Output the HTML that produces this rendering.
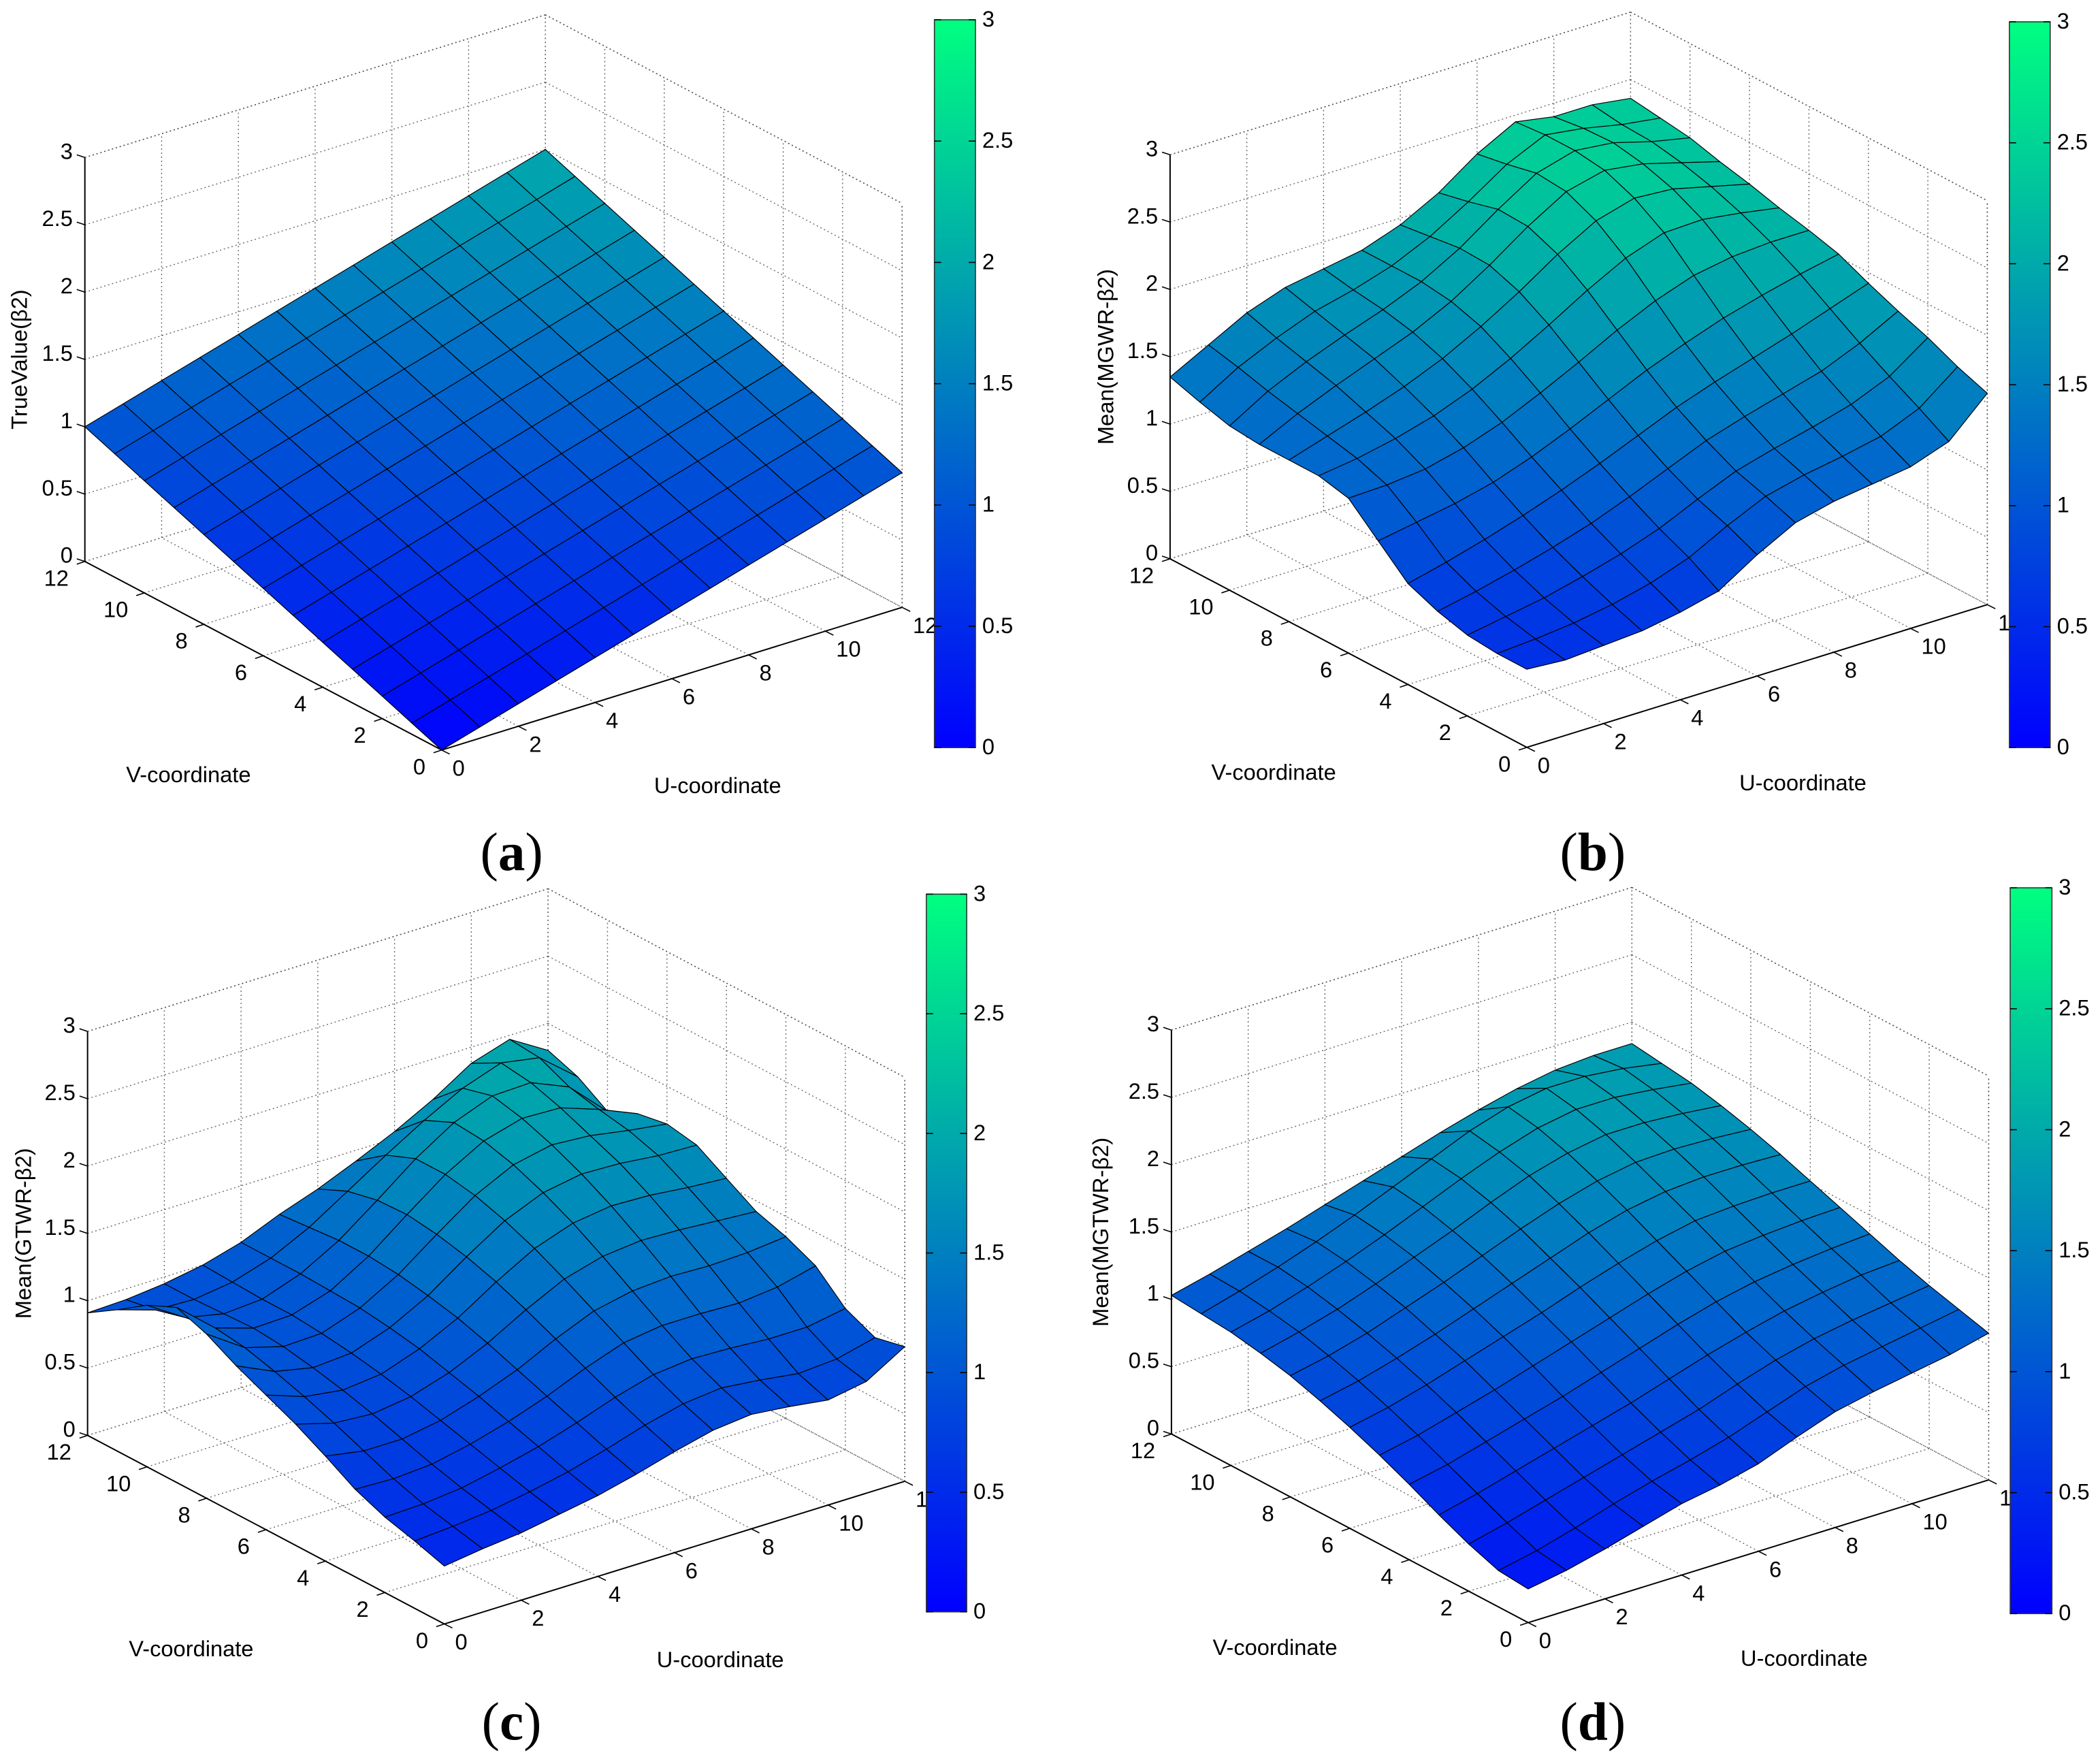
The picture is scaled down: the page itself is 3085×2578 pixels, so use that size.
<!DOCTYPE html>
<html><head><meta charset="utf-8"><style>
html,body{margin:0;padding:0;background:#fff;}
svg{display:block;}
.sans{font-family:"Liberation Sans",sans-serif;}
.serif{font-family:"Liberation Serif",serif;}
</style></head><body>
<svg id="fig" width="3085" height="2578" viewBox="0 0 1559.7 1303.3" preserveAspectRatio="none" xmlns="http://www.w3.org/2000/svg">
<defs><linearGradient id="winter" x1="0" y1="1" x2="0" y2="0"><stop offset="0" stop-color="rgb(0,0,255)"/><stop offset="1" stop-color="rgb(0,255,128)"/></linearGradient></defs>
</svg>
<script>
const uTicks=[0,2,4,6,8,10,12];
const vTicks=[0,2,4,6,8,10,12];
const zTicks=[0,0.5,1,1.5,2,2.5,3];
const zTickLabels=["0","0.5","1","1.5","2","2.5","3"];
const cbTickLabels=["0","0.5","1","1.5","2","2.5","3"];
const panelTitles=["TrueValue(β2)","Mean(MGWR-β2)","Mean(GTWR-β2)","Mean(MGTWR-β2)"];
const panelLetters=["a","b","c","d"];
const surfA=[
[0,.083,.167,.25,.333,.417,.5,.583,.667,.75,.833,.917,1],
[.083,.167,.25,.333,.417,.5,.583,.667,.75,.833,.917,1,1.083],
[.167,.25,.333,.417,.5,.583,.667,.75,.833,.917,1,1.083,1.167],
[.25,.333,.417,.5,.583,.667,.75,.833,.917,1,1.083,1.167,1.25],
[.333,.417,.5,.583,.667,.75,.833,.917,1,1.083,1.167,1.25,1.333],
[.417,.5,.583,.667,.75,.833,.917,1,1.083,1.167,1.25,1.333,1.417],
[.5,.583,.667,.75,.833,.917,1,1.083,1.167,1.25,1.333,1.417,1.5],
[.583,.667,.75,.833,.917,1,1.083,1.167,1.25,1.333,1.417,1.5,1.583],
[.667,.75,.833,.917,1,1.083,1.167,1.25,1.333,1.417,1.5,1.583,1.667],
[.75,.833,.917,1,1.083,1.167,1.25,1.333,1.417,1.5,1.583,1.667,1.75],
[.833,.917,1,1.083,1.167,1.25,1.333,1.417,1.5,1.583,1.667,1.75,1.833],
[.917,1,1.083,1.167,1.25,1.333,1.417,1.5,1.583,1.667,1.75,1.833,1.917],
[1,1.083,1.167,1.25,1.333,1.417,1.5,1.583,1.667,1.75,1.833,1.917,2]];
const surfB=[
[0.58,0.56,0.58,0.60,0.65,0.72,0.90,1.05,1.12,1.16,1.20,1.30,1.57],
[0.58,0.60,0.63,0.68,0.75,0.85,1.00,1.13,1.20,1.25,1.31,1.43,1.65],
[0.60,0.65,0.70,0.77,0.85,0.95,1.08,1.20,1.28,1.35,1.43,1.55,1.75],
[0.66,0.72,0.79,0.87,0.96,1.07,1.19,1.31,1.40,1.48,1.56,1.68,1.83],
[0.75,0.82,0.90,0.99,1.09,1.20,1.32,1.44,1.54,1.63,1.72,1.82,1.92],
[0.95,1.00,1.05,1.12,1.22,1.34,1.47,1.60,1.71,1.81,1.89,1.96,2.02],
[1.15,1.16,1.19,1.26,1.36,1.49,1.63,1.78,1.91,2.01,2.06,2.08,2.08],
[1.20,1.24,1.30,1.38,1.49,1.63,1.79,1.96,2.11,2.21,2.22,2.18,2.13],
[1.20,1.29,1.38,1.48,1.60,1.75,1.92,2.11,2.27,2.35,2.33,2.26,2.19],
[1.20,1.34,1.46,1.57,1.68,1.82,2.00,2.20,2.37,2.44,2.40,2.32,2.24],
[1.22,1.39,1.52,1.63,1.73,1.85,2.01,2.21,2.39,2.47,2.44,2.36,2.30],
[1.28,1.45,1.58,1.69,1.76,1.85,1.98,2.15,2.34,2.47,2.43,2.37,2.33],
[1.35,1.50,1.65,1.75,1.80,1.85,1.95,2.10,2.30,2.45,2.40,2.40,2.36]];
const surfC=[
[0.43,0.47,0.50,0.55,0.60,0.67,0.75,0.82,0.85,0.82,0.78,0.83,1.00],
[0.50,0.52,0.55,0.60,0.66,0.74,0.83,0.90,0.93,0.90,0.86,0.88,0.95],
[0.56,0.57,0.60,0.66,0.73,0.82,0.92,1.00,1.03,1.02,1.00,1.00,1.05],
[0.65,0.64,0.66,0.72,0.80,0.90,1.02,1.12,1.16,1.16,1.15,1.18,1.25],
[0.78,0.73,0.73,0.78,0.87,0.98,1.12,1.24,1.30,1.32,1.31,1.32,1.35],
[0.90,0.82,0.80,0.84,0.93,1.06,1.22,1.36,1.44,1.47,1.46,1.44,1.42],
[1.00,0.90,0.86,0.89,0.99,1.13,1.31,1.47,1.57,1.61,1.60,1.57,1.55],
[1.10,0.97,0.91,0.93,1.03,1.18,1.38,1.56,1.68,1.73,1.72,1.69,1.68],
[1.22,1.03,0.95,0.96,1.06,1.22,1.43,1.63,1.77,1.83,1.81,1.76,1.72],
[1.30,1.06,0.97,0.98,1.07,1.24,1.46,1.67,1.83,1.91,1.90,1.80,1.68],
[1.20,1.02,0.96,0.98,1.08,1.24,1.45,1.67,1.85,1.96,1.97,1.85,1.58],
[1.05,0.96,0.95,0.99,1.08,1.22,1.40,1.58,1.75,1.90,2.00,1.95,1.72],
[0.91,0.92,0.95,1.00,1.08,1.20,1.30,1.42,1.55,1.70,1.88,1.97,1.80]];
const surfD=[
[0.25,0.30,0.37,0.45,0.53,0.58,0.65,0.76,0.86,0.92,0.97,1.02,1.09],
[0.27,0.33,0.41,0.50,0.58,0.65,0.73,0.83,0.93,1.00,1.05,1.10,1.15],
[0.35,0.42,0.50,0.58,0.66,0.74,0.82,0.92,1.01,1.08,1.13,1.17,1.21],
[0.45,0.52,0.60,0.68,0.76,0.84,0.93,1.02,1.10,1.17,1.22,1.26,1.28],
[0.56,0.62,0.70,0.78,0.86,0.95,1.04,1.13,1.21,1.27,1.31,1.34,1.36],
[0.66,0.72,0.80,0.88,0.97,1.06,1.15,1.24,1.32,1.38,1.41,1.43,1.44],
[0.75,0.81,0.89,0.98,1.07,1.16,1.26,1.35,1.43,1.49,1.51,1.52,1.52],
[0.83,0.89,0.97,1.06,1.16,1.26,1.36,1.46,1.54,1.59,1.61,1.61,1.60],
[0.90,0.96,1.04,1.14,1.24,1.35,1.46,1.56,1.64,1.69,1.70,1.69,1.67],
[0.95,1.02,1.10,1.20,1.31,1.42,1.54,1.65,1.73,1.78,1.78,1.76,1.73],
[0.99,1.06,1.15,1.25,1.36,1.48,1.60,1.71,1.80,1.85,1.85,1.82,1.78],
[1.01,1.09,1.18,1.28,1.39,1.51,1.63,1.75,1.84,1.89,1.89,1.86,1.81],
[1.03,1.10,1.18,1.26,1.35,1.44,1.53,1.62,1.70,1.77,1.82,1.84,1.84]];
const surfaces=[surfA,surfB,surfC,surfD];
const layout=[
 {p0:[328,557],cb:[694,14.7,30.5,540.5],tx:15,letter:[380,632]},
 {p0:[1134,555],cb:[1492.4,16.2,30.3,539],tx:822,letter:[1183,632]},
 {p0:[330,1206],cb:[688,664,30,533],tx:18,letter:[380,1278]},
 {p0:[1135,1205],cb:[1493,659.3,31,539],tx:818,letter:[1183,1278]}];
const UX=28.5,UY=-8.83,VX=-22.08,VY=-11.67,ZS=100;
const NS="http://www.w3.org/2000/svg";
const svg=document.getElementById('fig');
function mk(tag,attrs,parent,txt){const e=document.createElementNS(NS,tag);for(const k in attrs)e.setAttribute(k,attrs[k]);if(txt!==undefined)e.textContent=txt;parent.appendChild(e);return e;}
function col(z){let t=Math.max(0,Math.min(1,z/3));return `rgb(0,${Math.round(255*t)},${Math.round(255*(1-0.5*t))})`;}
const FS=16.5;
layout.forEach((L,pi)=>{
 const g=mk('g',{},svg);
 
 
 const P=(u,v,z)=>[L.p0[0]+u*UX+v*VX, L.p0[1]+u*UY+v*VY-z*ZS];
 const line=(a,b,dash,w)=>mk('line',{x1:a[0],y1:a[1],x2:b[0],y2:b[1],stroke:dash?'#555':'#000','stroke-width':w||0.8,'stroke-dasharray':dash?'1 2':'none'},g);
 const grid=mk('g',{},g);
 
 
 const gl=(s)=>mk('line',{x1:s[0][0],y1:s[0][1],x2:s[1][0],y2:s[1][1],stroke:'#666','stroke-width':0.7,'stroke-dasharray':'1 2'},grid);
 zTicks.forEach(z=>{const a=P(0,12,z),b=P(12,12,z),c=P(12,0,z);gl([a,b]);gl([b,c]);});
 uTicks.forEach(u=>{gl([P(u,12,0),P(u,12,3)]);gl([P(u,0,0),P(u,12,0)]);});
 vTicks.forEach(v=>{gl([P(12,v,0),P(12,v,3)]);gl([P(0,v,0),P(12,v,0)]);});
 line(P(0,12,0),P(0,12,3),false,1); line(P(0,12,0),P(0,0,0),false,1); line(P(0,0,0),P(12,0,0),false,1);
 line(P(12,0,0),P(12,0,3),true); line(P(0,12,3),P(12,12,3),true); line(P(12,12,3),P(12,0,3),true);
 zTicks.forEach((z,i)=>{const p=P(0,12,z);line(p,[p[0]-6,p[1]-2]);const t=mk('text',{x:p[0]-9,y:p[1]+1,'font-size':FS,'text-anchor':'end',class:'sans'},g,zTickLabels[i]);});
 vTicks.forEach(v=>{const p=P(0,v,0);line(p,[p[0]-6,p[1]+2]);const t=mk('text',{x:p[0]-12,y:p[1]+18,'font-size':FS,'text-anchor':'end',class:'sans'},g,String(v));});
 uTicks.forEach(u=>{const p=P(u,0,0);line(p,[p[0]+6,p[1]+3]);const t=mk('text',{x:p[0]+8,y:p[1]+19,'font-size':FS,'text-anchor':'start',class:'sans'},g,String(u));});
 const S=surfaces[pi];const cells=[];
 for(let v=0;v<12;v++)for(let u=0;u<12;u++)cells.push([u,v]);
 cells.sort((a,b)=>(b[0]+b[1])-(a[0]+a[1]));
 const sg=mk('g',{},g);
 
 
 cells.forEach(([u,v])=>{const z1=S[v][u],z2=S[v][u+1],z3=S[v+1][u+1],z4=S[v+1][u];
  const pts=[P(u,v,z1),P(u+1,v,z2),P(u+1,v+1,z3),P(u,v+1,z4)];
  const pl=mk('polygon',{points:pts.map(p=>p.join(',')).join(' '),fill:col((z1+z2+z3+z4)/4),stroke:'#000','stroke-width':0.6,'stroke-linejoin':'round'},sg);
  
  });
 const vl=mk('text',{x:L.p0[0]-188,y:L.p0[1]+24,'font-size':FS,'text-anchor':'middle',class:'sans'},g,'V-coordinate');
 
 const ul=mk('text',{x:L.p0[0]+205,y:L.p0[1]+32,'font-size':FS,'text-anchor':'middle',class:'sans'},g,'U-coordinate');
 
 const zc=P(0,12,1.5);
 const zl=mk('text',{x:L.tx,y:zc[1],'font-size':FS,'text-anchor':'middle',class:'sans',transform:`rotate(-90 ${L.tx} ${zc[1]})`,dy:5},g,panelTitles[pi]);
 
 const lt=mk('text',{x:L.letter[0],y:L.letter[1]+14,'font-size':40,'text-anchor':'middle',class:'serif'},g);
 
 lt.appendChild(document.createTextNode('('));
 const ts=mk('tspan',{'font-weight':'bold'},lt,panelLetters[pi]);
 lt.appendChild(document.createTextNode(')'));
 const [cx,cy,cw,ch]=L.cb;
 const cbr=mk('rect',{x:cx,y:cy,width:cw,height:ch,fill:'url(#winter)',stroke:'#333','stroke-width':0.8},g);
 
 zTicks.forEach((z,i)=>{const y=cy+ch-z/3*ch;line([cx,y],[cx+5,y]);line([cx+cw-5,y],[cx+cw,y]);
  const t=mk('text',{x:cx+cw+5,y:y+5,'font-size':FS,class:'sans'},g,cbTickLabels[i]);});
});
</script>
</body></html>
